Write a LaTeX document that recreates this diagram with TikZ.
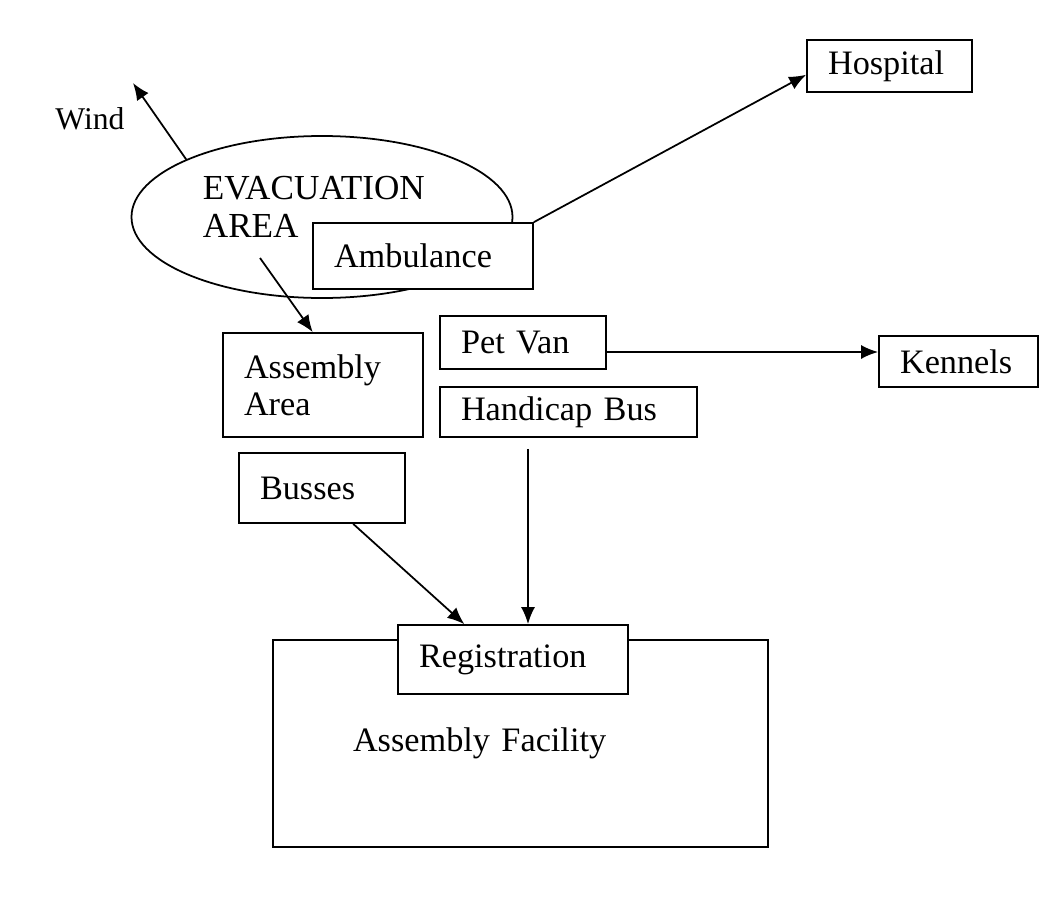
\documentclass[tikz,border=0pt]{standalone}
\usepackage{fontspec}
\setmainfont{Liberation Serif}
\usepackage{tikz}
\usetikzlibrary{arrows.meta, shapes}

\begin{document}
\begin{tikzpicture}[
            >={Latex[width=2.8mm,length=3.4mm]},
                base/.style = {rectangle, draw=black, line width=1pt,
                            minimum height=1cm, font=\fontsize{19.5}{21}\selectfont},
                process/.style = {base, fill=white, align=left, inner xsep=0.42cm},
                area/.style = {ellipse, draw=black, line width=1pt, inner sep=0pt,
                            minimum width=7.62cm, minimum height=3.24cm},
                plaintext/.style = {font=\fontsize{19.5}{22}\selectfont, align=left, inner sep=0pt},
            line width=1pt,
            node distance=1cm]
            \useasboundingbox (0,0) rectangle (21.1,-18.04);
            \node (EvacuationArea) [area] at (6.44,-4.34) {};
            \node (EvacText) [plaintext, left of=EvacuationArea, anchor=west, xshift=-1.4cm, yshift=0.2cm,
                font=\fontsize{20}{22}\selectfont] {EVACUATION\\AREA};
            \node (Wind) [plaintext, left of=EvacuationArea, xshift=-3.64cm, yshift=1.96cm,
                font=\fontsize{18}{20}\selectfont] {Wind};
            \node (Ambulance) [process, right of=EvacuationArea, xshift=1.02cm, yshift=-0.78cm,
                text width=3.56cm, minimum height=1.32cm] {Ambulance};
            \node (Hospital) [process, right of=Ambulance, xshift=8.33cm, yshift=3.80cm,
                text width=2.46cm, minimum height=1.04cm] {Hospital};
            \node (AssemblyArea) [process, below of=EvacuationArea, xshift=0.02cm, yshift=-2.36cm,
                text width=3.16cm, minimum height=2.08cm] {Assembly\\Area};
            \node (Busses) [process, below of=AssemblyArea, xshift=-0.02cm, yshift=-1.06cm,
                text width=2.48cm, minimum height=1.4cm] {Busses};
            \node (PetVan) [process, right of=AssemblyArea, xshift=3cm, yshift=0.85cm,
                text width=2.48cm, minimum height=1.06cm] {Pet Van};
            \node (HandicapBus) [process, below of=PetVan, xshift=0.91cm, yshift=-0.39cm,
                text width=4.30cm, minimum height=1cm] {Handicap Bus};
            \node (Kennels) [process, right of=PetVan, xshift=7.71cm, yshift=-0.38cm,
                text width=2.34cm, minimum height=1.02cm] {Kennels};
            \node (AssemblyFacility) [process, below of=Busses, xshift=3.97cm, yshift=-4.11cm,
                inner xsep=1.6cm, text width=6.7cm, minimum height=4.14cm] {Assembly Facility};
            \node (Registration) [process, above of=AssemblyFacility, xshift=-0.15cm, yshift=0.68cm,
                text width=3.76cm, minimum height=1.38cm] {Registration};
            \coordinate (WindTip) at (2.66,-1.66);
            \coordinate (AreaExit) at (5.2,-5.16);
            \draw[->]  (EvacuationArea.157) -- (WindTip);
            \draw[->]  (AreaExit) -- (AssemblyArea.101);
            \draw[->]  (Ambulance.north east) -- (Hospital.186);
            \draw[->]  ([yshift=-0.19cm]PetVan.east) -- ([yshift=0.19cm]Kennels.west);
            \draw[->]  (Busses.-49) -- (Registration.144);
            \draw[->, shorten <=0.22cm]  ([xshift=-0.81cm]HandicapBus.south) -- ([xshift=-0.81cm]HandicapBus.south |- Registration.north);
        \end{tikzpicture}
\end{document}
